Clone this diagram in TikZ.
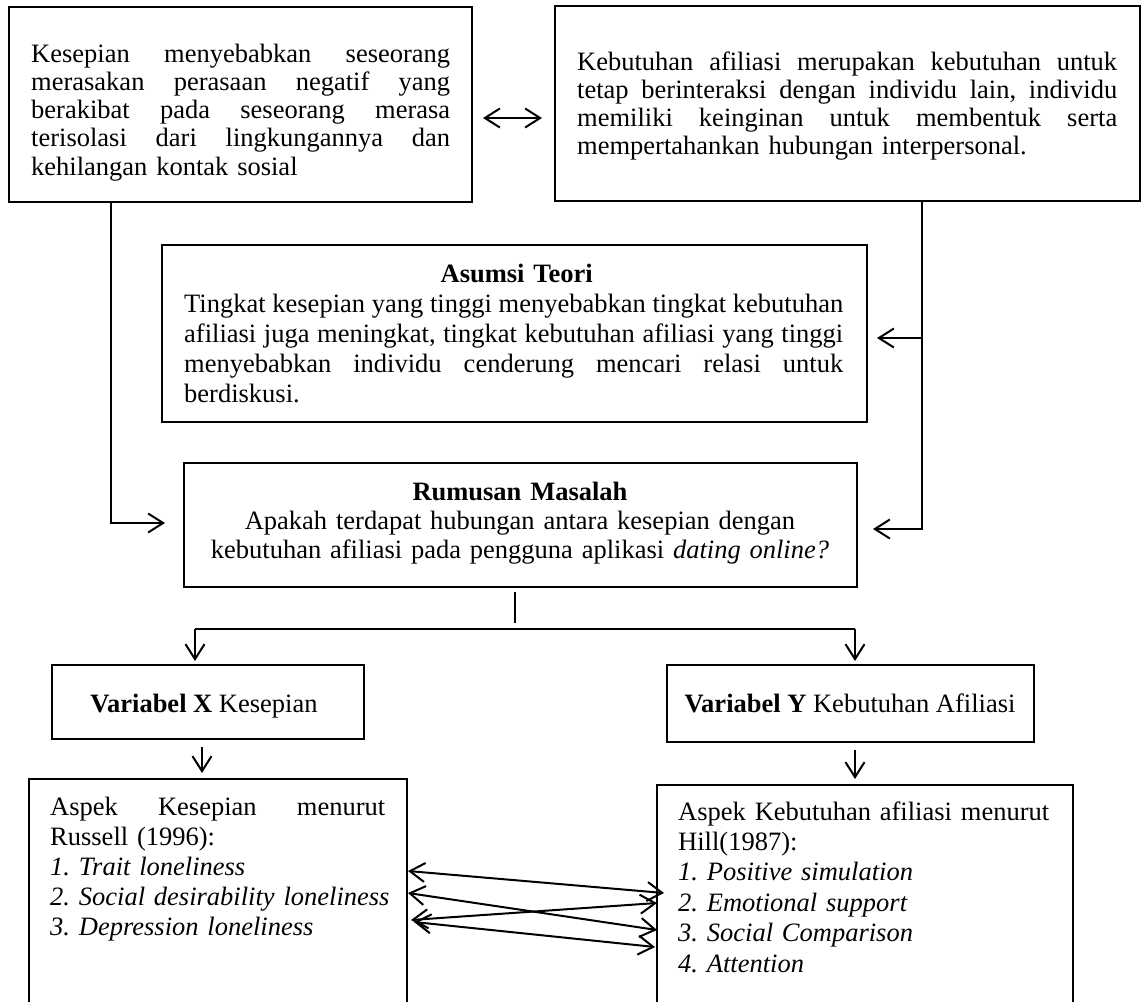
\documentclass[tikz,border=0pt]{standalone}
\usepackage{fontspec}
\setmainfont{Liberation Serif}
\usetikzlibrary{arrows.meta}
\newcommand\jline[2]{\makebox[#1][s]{\spaceskip=0pt\xspaceskip=0pt\relax #2}}
\frenchspacing
\begin{document}
\begin{tikzpicture}[x=1pt,y=-1pt,
  box/.style={draw, line width=2.2pt, inner sep=0pt, outer sep=0pt},
  txt/.style={anchor=base west, inner sep=0pt, align=left},
  tip/.tip={Straight Barb[length=15pt,width=19pt]},
  conn/.style={line width=2pt, -tip},
  both/.style={line width=2pt, tip-tip},
  plain/.style={line width=2pt}]
\useasboundingbox (0,0) rectangle (1144,1002);
\clip (0,0) rectangle (1144,1002);
% boxes
\node[box, minimum width=463pt, minimum height=195pt] (k) at (240.5,104.5) {};
\node[box, minimum width=585pt, minimum height=195pt] (kb) at (847.5,103.5) {};
\node[box, minimum width=705pt, minimum height=177pt] (as) at (514.5,333.5) {};
\node[box, minimum width=673pt, minimum height=124pt] (rm) at (520.5,525) {};
\node[box, minimum width=312pt, minimum height=74pt] (vx) at (208,702) {};
\node[box, minimum width=367pt, minimum height=77pt] (vy) at (850.5,703.5) {};
\node[box, minimum width=378pt, minimum height=251pt] (ax) at (218,904.5) {};
\node[box, minimum width=416pt, minimum height=245pt] (ay) at (865,907.5) {};
% texts
\node[txt, text width=450pt, font=\fontsize{26.5}{28.3}\selectfont] (kt) at (31,62) {%
\jline{419pt}{Kesepian menyebabkan seseorang}\\
\jline{419pt}{merasakan perasaan negatif yang}\\
\jline{419pt}{berakibat pada seseorang merasa}\\
\jline{419pt}{terisolasi dari lingkungannya dan}\\
kehilangan kontak sosial};
\node[txt, text width=560pt, font=\fontsize{26.5}{28.3}\selectfont] (kbt) at (577,70) {%
\jline{540pt}{Kebutuhan afiliasi merupakan kebutuhan untuk}\\
\jline{540pt}{tetap berinteraksi dengan individu lain, individu}\\
\jline{540pt}{memiliki keinginan untuk membentuk serta}\\
mempertahankan hubungan interpersonal.};
\node[txt, text width=680pt, font=\fontsize{26.5}{30}\selectfont] (ast) at (184,282) {%
\makebox[665pt]{\textbf{Asumsi Teori}}\\
\jline{659pt}{Tingkat kesepian yang tinggi menyebabkan tingkat kebutuhan}\\
\jline{659pt}{afiliasi juga meningkat, tingkat kebutuhan afiliasi yang tinggi}\\
\jline{659pt}{menyebabkan individu cenderung mencari relasi untuk}\\
berdiskusi.};
\node[anchor=base, inner sep=0pt, align=center, text width=660pt, font=\fontsize{26.5}{29}\selectfont] (rmt) at (520,500) {%
\textbf{Rumusan Masalah}\\
Apakah terdapat hubungan antara kesepian dengan\\
kebutuhan afiliasi pada pengguna aplikasi \textit{dating online?}};
\node[anchor=base, inner sep=0pt, font=\fontsize{26.5}{30}\selectfont] (vxt) at (204,712) {\textbf{Variabel X} Kesepian};
\node[anchor=base, inner sep=0pt, font=\fontsize{26.5}{30}\selectfont] (vyt) at (850,712) {\textbf{Variabel Y} Kebutuhan Afiliasi};
\node[txt, text width=400pt, font=\fontsize{26.5}{30}\selectfont] (axt) at (50,815) {%
\jline{335pt}{Aspek Kesepian menurut}\\
Russell (1996):\\
\textit{1. Trait loneliness}\\
\textit{2. Social desirability loneliness}\\
\textit{3. Depression loneliness}};
\node[txt, text width=400pt, font=\fontsize{26.5}{30.4}\selectfont] (ayt) at (678,820) {%
\jline{371pt}{Aspek Kebutuhan afiliasi menurut}\\
Hill(1987):\\
\textit{1. Positive simulation}\\
\textit{2. Emotional support}\\
\textit{3. Social Comparison}\\
\textit{4. Attention}};
% connectors
\coordinate (m1) at (483,118); \coordinate (m2) at (542,118);
\draw[both] (m1) -- (m2);
\coordinate (l1) at (111,523); \coordinate (l2) at (165,523);
\draw[conn] (k.south -| l1) |- (l2);
\coordinate (r1) at (922,529); \coordinate (r2) at (873,529);
\coordinate (r3) at (922,338); \coordinate (r4) at (877,338);
\draw[conn] (kb.south -| r1) |- (r2);
\draw[conn] (r3) -- (r4);
\coordinate (s1) at (515,592); \coordinate (s2) at (515,623);
\draw[plain] (s1) -- (s2);
\coordinate (h1) at (195,629); \coordinate (h2) at (855,629);
\coordinate (h1e) at (195,661); \coordinate (h2e) at (855,661);
\draw[plain] (h1) -- (h2);
\draw[conn] (h1) -- (h1e);
\draw[conn] (h2) -- (h2e);
\coordinate (x1) at (202,747); \coordinate (x2) at (202,773);
\draw[conn] (x1) -- (x2);
\coordinate (y1) at (855,750); \coordinate (y2) at (855,779);
\draw[conn] (y1) -- (y2);
\coordinate (b1a) at (408,871); \coordinate (b1b) at (664,893);
\coordinate (b2a) at (408,893); \coordinate (b2b) at (657,930);
\coordinate (b3a) at (411,920); \coordinate (b3b) at (657,903);
\coordinate (b4a) at (414,922); \coordinate (b4b) at (655,947);
\draw[both] (b1a) -- (b1b);
\draw[both] (b2a) -- (b2b);
\draw[both] (b3a) -- (b3b);
\draw[both] (b4a) -- (b4b);
\end{tikzpicture}
\end{document}
